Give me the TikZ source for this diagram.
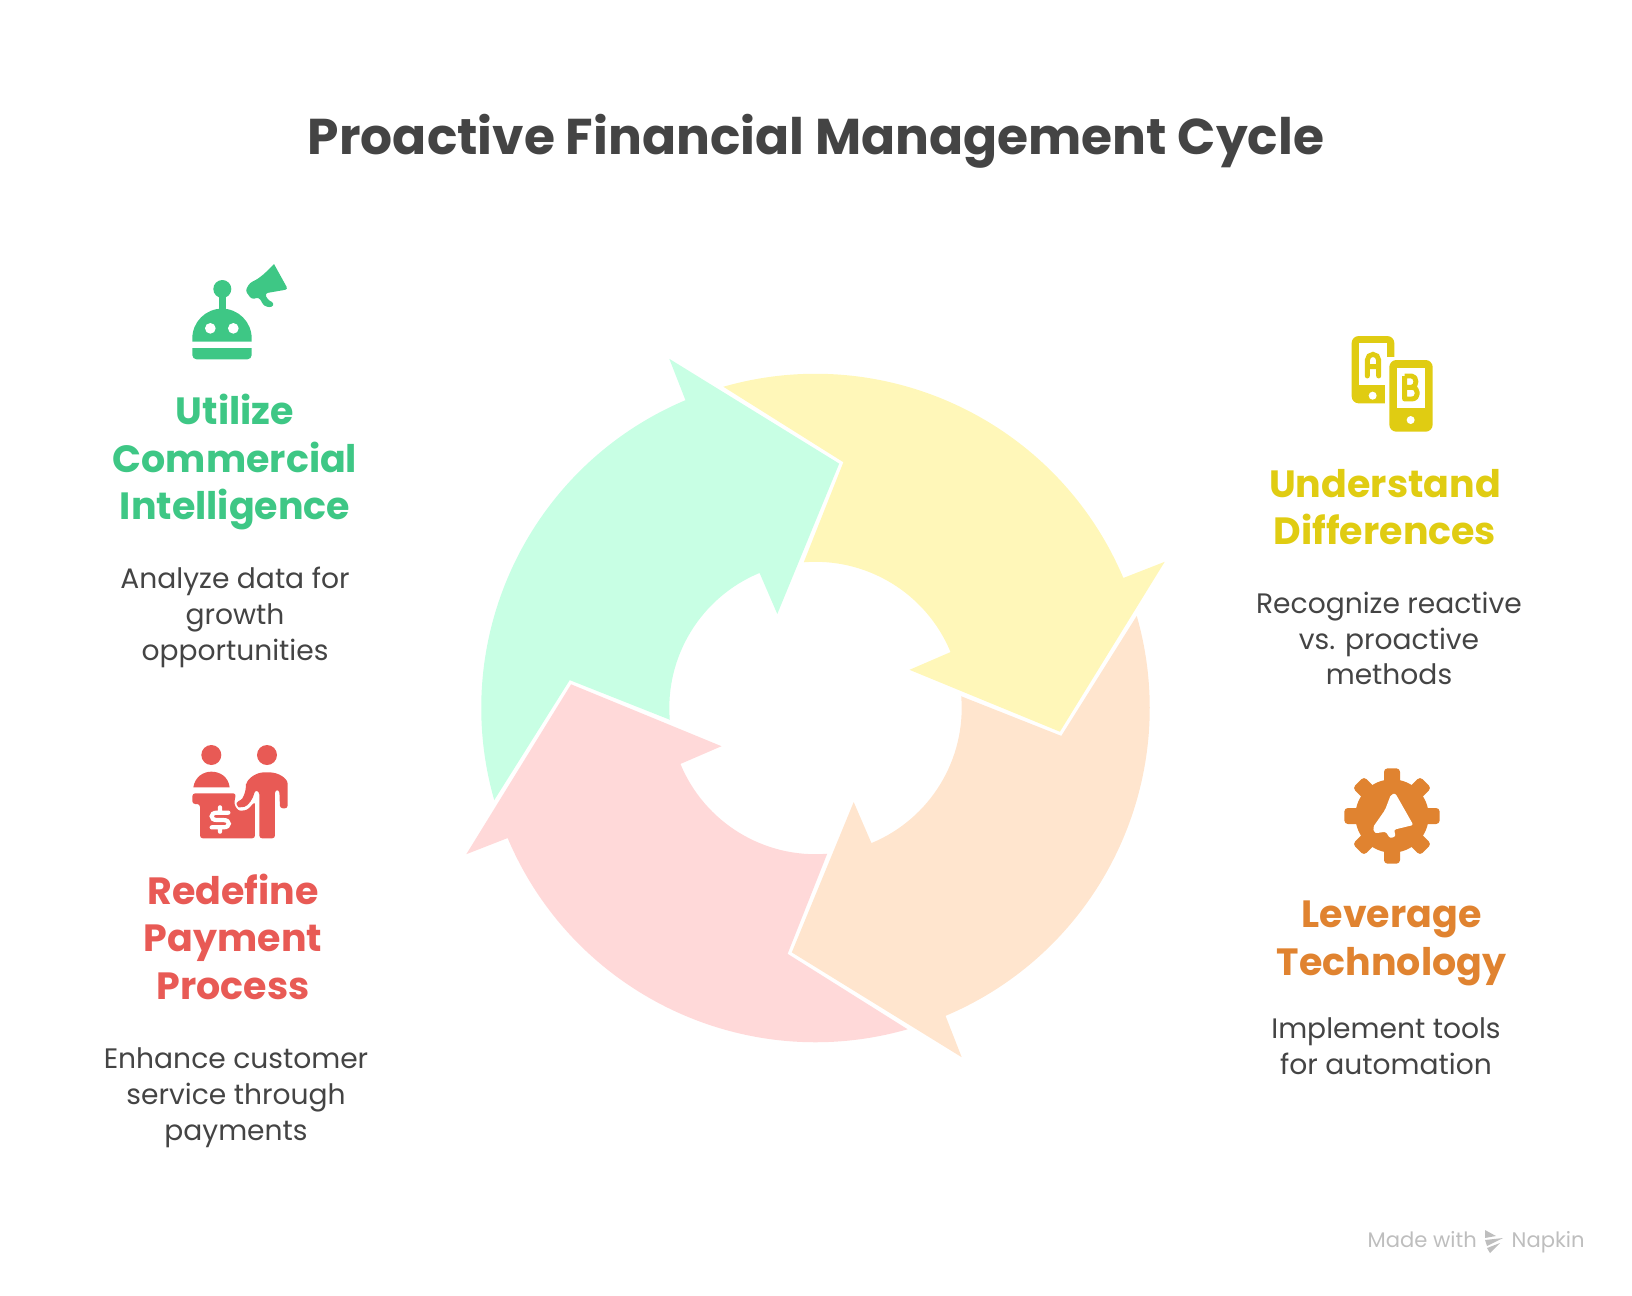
\documentclass[tikz,border=0pt]{standalone}
\usepackage{fontspec}
\setmainfont{Poppins}
\definecolor{colYellow}{RGB}{255,247,185}
\definecolor{colPeach}{RGB}{255,229,206}
\definecolor{colPink}{RGB}{255,217,217}
\definecolor{colMint}{RGB}{200,255,228}
\definecolor{txtGreen}{RGB}{62,199,133}
\definecolor{txtYellow}{RGB}{224,204,18}
\definecolor{txtOrange}{RGB}{224,131,48}
\definecolor{txtRed}{RGB}{232,90,85}
\definecolor{txtDark}{RGB}{68,68,68}
\definecolor{txtGrey}{RGB}{190,190,190}
\tikzset{
  headtext/.style={align=center,font=\fontsize{10.8}{13.5}\selectfont\bfseries},
  desctext/.style={align=center,text=txtDark,font=\fontsize{8.0}{10.2}\selectfont},
  hole/.style={fill=white}
}

\begin{document}
\begin{tikzpicture}[x=0.01cm,y=-0.01cm]
\useasboundingbox (0,0) rectangle (1632,1296);

\node[text=txtDark,font=\fontsize{14.3}{17}\selectfont\bfseries] (title) at (816,141) {Proactive Financial Management Cycle};

% wheel
\foreach \ang/\col in {0/colYellow,-90/colPeach,-180/colPink,-270/colMint}{
\begin{scope}[shift={(815.5,708)},y=0.01cm,rotate=\ang]
\fill[\col] (106:334.2) arc[start angle=106,end angle=22.9,radius=334.2]
  -- (349.2,146.2) -- (244.4,-23.7) -- (94,38.2) -- (22.5:146.2)
  arc[start angle=22.5,end angle=94.6,radius=146.2] -- (27.9,245.8) -- cycle;
\end{scope}
}

% labels
\node[headtext,text=txtGreen] (utilize) at (235,462) {Utilize\\Commercial\\Intelligence};
\node[desctext] (utilize-desc) at (235,617.5) {Analyze data for\\growth\\opportunities};
\node[headtext,text=txtRed] (redefine) at (233,936.5) {Redefine\\Payment\\Process};
\node[desctext] (redefine-desc) at (236,1098) {Enhance customer\\service through\\payments};
\node[headtext,text=txtYellow] (understand) at (1385,507) {Understand\\Differences};
\node[desctext] (understand-desc) at (1389,638.5) {Recognize reactive\\vs. proactive\\methods};
\node[headtext,text=txtOrange] (leverage) at (1391.5,943.5) {Leverage\\Technology};
\node[desctext] (leverage-desc) at (1386,1046.5) {Implement tools\\for automation};

\node[text=txtGrey,font=\fontsize{6.0}{8}\selectfont,anchor=base west,inner sep=0pt] (made) at (1367,1247) {Made with};
\node[text=txtGrey,font=\fontsize{6.0}{8}\selectfont,anchor=base west,inner sep=0pt] (napkin) at (1511,1247) {Napkin};
\fill[txtGrey] (1485,1230) -- (1496,1236) -- (1485,1238) -- cycle
  (1485,1240) -- (1503,1238) -- (1487,1246) -- cycle
  (1487,1248) -- (1500,1243) -- (1490,1253) -- cycle;

% robot
\begin{scope}[shift={(160,240)},scale=1/3,txtGreen]
\fill (187,147) circle[radius=27];
\fill (176,160) rectangle (198,215);
\fill (97,305) -- (97,295) arc[start angle=180,end angle=360,radius=89] -- (275,305) -- cycle;
\fill (97,324) -- (275,324) [rounded corners=1.2pt] -- (275,358) -- (97,358) [sharp corners] -- cycle;
\fill[hole] (151,265) circle[radius=16] (220,265) circle[radius=16];
\fill[rounded corners=0.8pt] (342,72) -- (384,148) -- (315,160) -- (322,178) -- (343,190) -- (335,203) -- (312,198) -- (297,172) -- (275,178) -- (256,152) -- (270,128) .. controls (300,115) and (320,95) .. (342,72);
\end{scope}

% teller
\begin{scope}[shift={(160,730)},scale=1/3,txtRed]
\fill (154,75) circle[radius=30] (321,75) circle[radius=30];
\fill (100,172) .. controls (105,140) and (130,125) .. (154,125) .. controls (180,125) and (205,140) .. (209,172) -- cycle;
\fill[rounded corners=0.8pt] (97,190) -- (228,190) -- (222,222) -- (235,243) -- (262,240) -- (285,215) -- (285,325) -- (120,325) -- (120,222) -- (97,222) -- cycle;
\fill[rounded corners=0.8pt] (258,170) .. controls (262,145) and (290,127) .. (320,127) .. controls (355,127) and (383,145) .. (383,170) -- (383,235) -- (360,235) -- (358,180) -- (345,180) -- (345,325) -- (298,325) -- (298,185) -- (285,180) .. controls (280,205) and (265,228) .. (245,232) .. controls (235,232) and (228,222) .. (234,212) .. controls (248,208) and (255,190) .. (258,170) -- cycle;
\draw[white,line width=1.2pt,line cap=round] (205,248) -- (170,248) .. controls (150,248) and (150,270) .. (170,270) -- (190,270) .. controls (212,270) and (212,292) .. (190,292) -- (155,292) (180,232) -- (180,248) (180,292) -- (180,305);
\end{scope}

% phones
\begin{scope}[shift={(1330,325)},scale=1/3,txtYellow]
\fill[rounded corners=2pt] (65,33) rectangle (193,235);
\fill[hole] (87,55) rectangle (170,180);
\fill[hole] (165,97) rectangle (200,240);
\fill[hole] (128,212) circle[radius=12];
\draw[line width=1.4pt,line cap=round] (112,153) -- (112,105) arc[start angle=180,end angle=360,radius=17] -- (146,153) (112,125) -- (146,125);
\fill[rounded corners=2pt] (178,105) rectangle (308,320);
\fill[hole] (200,128) rectangle (285,250);
\fill[hole] (242,285) circle[radius=12];
\draw[line width=1.4pt,line join=round] (224,153) -- (224,222) -- (245,222) .. controls (268,222) and (268,187) .. (245,187) -- (224,187) (245,187) .. controls (262,187) and (262,153) .. (245,153) -- (224,153);
\end{scope}

% gear
\begin{scope}[shift={(1330,755)},scale=1/3,txtOrange]
\fill (186,183) circle[radius=110];
\foreach \ang in {0,45,...,315}{
\fill[rotate around={\ang:(186,183)},rounded corners=1pt] (162,100) -- (162,40) -- (210,40) -- (210,100) -- cycle;
}
\fill[hole,rounded corners=0.6pt] (183,118) -- (196,115) -- (250,210) -- (192,224) -- (197,244) -- (180,250) -- (167,230) -- (135,235) -- (128,218) -- (165,165) -- cycle;
\end{scope}
\end{tikzpicture}
\end{document}
